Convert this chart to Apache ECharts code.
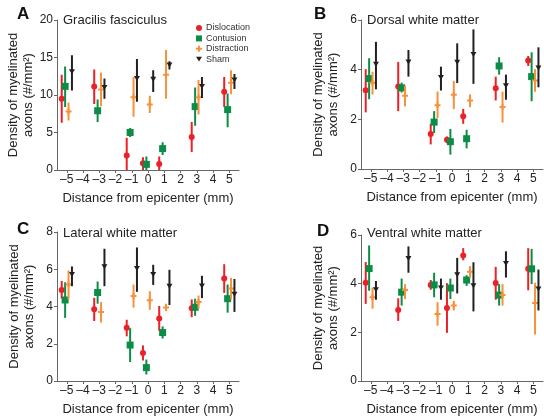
<!DOCTYPE html>
<html>
<head>
<meta charset="utf-8">
<script src="https://cdn.jsdelivr.net/npm/echarts@6/dist/echarts.min.js"></script>
<style>html,body{margin:0;padding:0;background:#fff}#c{width:544px;height:417px}</style>
</head>
<body>
<div id="c"></div>
<script>
// Distances from epicenter (mm)
const distances = [-5, -3, -1, 0, 1, 3, 5];
const xTicks = [-5, -4, -3, -2, -1, 0, 1, 2, 3, 4, 5];
const groupNames = ['Dislocation', 'Contusion', 'Distraction', 'Sham'];
// Each entry: [mean, lower error, upper error]
// Panel A: Gracilis fasciculus
const A_dislocation = [[9.5,6.3,12.7],[11.15,8.8,13.4],[1.95,0,4.3],[0.9,0,1.7],[0.8,0,1.8],[4.4,2.4,6.4],[10.45,8.4,12.4]];
const A_contusion   = [[11.15,8.4,13.8],[7.9,6.4,9.4],[5.0,4.4,5.6],[0.75,0,1.8],[2.85,2.0,3.7],[8.45,5.9,11.0],[8.05,5.7,10.2]];
const A_distraction = [[7.8,6.6,9.0],[10.75,8.5,13.0],[9.7,7.1,12.4],[8.75,7.6,9.9],[12.7,9.5,16.0],[9.7,7.4,12.0],[11.65,10.1,13.3]];
const A_sham        = [[13.1,10.6,15.3],[11.0,9.5,12.2],[12.2,9.1,14.8],[12.1,10.4,13.3],[14.0,13.4,14.5],[11.15,9.6,12.4],[12.0,10.8,12.8]];
// Panel B: Dorsal white matter
const B_dislocation = [[3.17,2.28,4.02],[3.32,2.33,4.31],[1.41,0.99,1.82],[1.18,1.04,1.31],[2.12,1.82,2.42],[3.25,2.76,3.72],[4.37,4.15,4.55]];
const B_contusion   = [[3.64,2.81,4.46],[3.27,3.08,3.48],[1.89,1.45,2.33],[1.1,0.58,1.61],[1.22,0.83,1.58],[4.15,3.8,4.5],[3.72,2.73,4.7]];
const B_distraction = [[3.47,3.0,3.92],[2.95,2.52,3.35],[2.57,2.05,3.12],[2.99,2.41,3.55],[2.76,2.49,3.01],[2.5,1.87,3.12],[3.56,3.11,4.02]];
const B_sham        = [[4.22,3.21,5.12],[4.31,3.72,4.79],[3.68,3.16,4.12],[4.3,3.46,5.06],[4.61,3.43,5.62],[3.35,2.79,3.8],[4.07,3.29,4.9]];
// Panel C: Lateral white matter
const C_dislocation = [[4.89,4.42,5.37],[3.85,3.22,4.47],[2.86,2.4,3.29],[1.5,1.1,1.91],[3.36,2.69,4.03],[3.9,3.43,4.38],[5.51,4.73,6.27]];
const C_contusion   = [[4.35,3.39,5.3],[4.75,4.15,5.34],[1.93,1.02,2.84],[0.72,0.35,1.15],[2.6,2.28,2.93],[3.96,3.5,4.42],[4.42,3.67,5.18]];
const C_distraction = [[5.18,4.38,5.94],[3.71,3.14,4.24],[4.56,3.94,5.18],[4.33,3.82,4.82],[3.94,3.75,4.15],[4.24,3.89,4.59],[4.96,4.38,5.53]];
const C_sham        = [[5.72,5.09,6.15],[6.13,5.09,7.1],[6.04,4.79,7.17],[5.72,5.16,6.24],[5.09,4.08,5.97],[5.1,4.45,5.65],[4.66,3.71,5.48]];
// Panel D: Ventral white matter
const D_dislocation = [[4.04,3.17,4.89],[2.92,2.47,3.4],[3.95,3.75,4.15],[3.0,1.98,4.02],[5.16,4.96,5.46],[4.03,3.34,4.69],[4.61,3.73,5.46]];
const D_contusion   = [[4.62,3.71,5.57],[3.65,3.1,4.21],[3.95,3.44,4.45],[3.82,3.37,4.21],[4.15,3.91,4.35],[3.53,3.1,3.98],[4.61,3.98,5.43]];
const D_distraction = [[3.44,2.97,3.84],[3.74,3.37,3.98],[2.75,2.27,3.24],[3.1,2.9,3.3],[4.49,4.25,4.72],[3.53,3.1,3.98],[3.21,1.91,4.04]];
const D_sham        = [[3.75,3.34,4.11],[5.03,4.45,5.53],[3.82,3.34,4.21],[4.37,3.6,5.06],[3.91,2.86,4.88],[4.83,4.25,5.33],[3.78,2.9,4.58]];

const panelTitles = ['Gracilis fasciculus', 'Dorsal white matter', 'Lateral white matter', 'Ventral white matter'];
const panelLetters = ['A', 'B', 'C', 'D'];
const yMax = [20, 6, 8, 6];
const yInterval = [5, 2, 2, 2];
const panelData = [
  [A_dislocation, A_contusion, A_distraction, A_sham],
  [B_dislocation, B_contusion, B_distraction, B_sham],
  [C_dislocation, C_contusion, C_distraction, C_sham],
  [D_dislocation, D_contusion, D_distraction, D_sham]
];

const FONT = 'Liberation Sans, Arial, Helvetica, sans-serif';
const colors = ['#ec2027', '#0c8c47', '#f7923a', '#231f20'];
const offsets = [-0.31, -0.1, 0.11, 0.32];
const symbols = [
  'circle',
  'rect',
  'path://M-1,-3 L1,-3 L1,-1 L3,-1 L3,1 L1,1 L1,3 L-1,3 L-1,1 L-3,1 L-3,-1 L-1,-1 Z',
  'path://M0,0 L10,0 L5,8 Z'
];
const symbolSizes = [6, 7, 6, [6, 5]];

const grids = [
  {left: 57, top: 20, width: 182, height: 150},
  {left: 361, top: 20, width: 182, height: 149},
  {left: 57, top: 232, width: 182, height: 151},
  {left: 361, top: 235, width: 182, height: 148}
];

const minusFmt = v => String(v).replace('-', '\u2013');

const xAxes = grids.map((g, i) => ({
  type: 'value', gridIndex: i, min: -5.6, max: 5.6,
  axisLine: {show: true, onZero: false, lineStyle: {color: '#666', width: 1}},
  axisTick: {show: true, customValues: xTicks, length: 3, lineStyle: {color: '#666'}},
  axisLabel: {customValues: xTicks, formatter: minusFmt, fontSize: 12, color: '#222', fontFamily: FONT, margin: 4},
  splitLine: {show: false},
  name: 'Distance from epicenter (mm)', nameLocation: 'middle', nameGap: 22,
  nameTextStyle: {fontSize: 13, color: '#222', fontFamily: FONT}
}));

const yAxes = grids.map((g, i) => ({
  type: 'value', gridIndex: i, min: 0, max: yMax[i], interval: yInterval[i],
  axisLine: {show: true, onZero: false, lineStyle: {color: '#666', width: 1}},
  axisTick: {show: true, length: 3, lineStyle: {color: '#666'}},
  axisLabel: {fontSize: 12, color: '#222', fontFamily: FONT, margin: 4},
  splitLine: {show: false},
  name: 'Density of myelinated\naxons (#/mm\u00b2)', nameLocation: 'middle', nameGap: 20,
  nameTextStyle: {fontSize: 13, color: '#222', fontFamily: FONT, lineHeight: 15}
}));

const series = [];
panelData.forEach((groups, p) => {
  groups.forEach((arr, g) => {
    const x = k => distances[k] + offsets[g];
    series.push({
      type: 'custom', xAxisIndex: p, yAxisIndex: p, z: 2 + g * 2,
      data: arr.map((d, k) => [x(k), d[1], d[2]]),
      renderItem: (params, api) => {
        const a = api.coord([api.value(0), api.value(1)]);
        const b = api.coord([api.value(0), api.value(2)]);
        return {type: 'line', shape: {x1: a[0], y1: a[1], x2: b[0], y2: b[1]},
          style: {stroke: colors[g], lineWidth: 2}};
      },
      silent: true
    });
    series.push({
      type: 'scatter', name: groupNames[g], xAxisIndex: p, yAxisIndex: p, z: 3 + g * 2,
      symbol: symbols[g], symbolSize: symbolSizes[g],
      itemStyle: {color: colors[g], opacity: 1},
      data: arr.map((d, k) => [x(k), d[0]])
    });
  });
});

const titlePos = [[63, 14], [367, 14], [63, 227], [367, 227]];
const letterPos = [[17, 6], [314, 6], [17, 221], [317, 223]];
const graphics = [];
panelTitles.forEach((t, i) => {
  graphics.push({type: 'text', left: titlePos[i][0], top: titlePos[i][1],
    style: {text: t, font: '13px ' + FONT, fill: '#222'}});
  graphics.push({type: 'text', left: letterPos[i][0], top: letterPos[i][1],
    style: {text: panelLetters[i], font: 'bold 17px ' + FONT, fill: '#111'}});
});

const chart = echarts.init(document.getElementById('c'), null, {renderer: 'canvas'});
chart.setOption({
  animation: false,
  backgroundColor: '#fff',
  grid: grids,
  xAxis: xAxes,
  yAxis: yAxes,
  series: series,
  graphic: graphics,
  legend: {
    orient: 'vertical', left: 191, top: 18, itemWidth: 6, itemHeight: 6, itemGap: 0.4,
    padding: 5,
    data: groupNames,
    textStyle: {fontSize: 9, color: '#333', fontFamily: FONT, lineHeight: 10, height: 10, padding: [0, 0, 0, -1]},
    selectedMode: false
  }
});
</script>
</body>
</html>
